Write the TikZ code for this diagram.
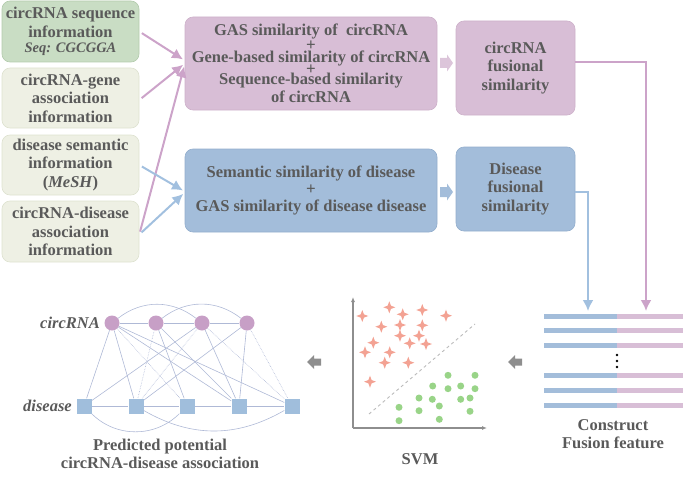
\documentclass[tikz,border=0pt]{standalone}
\usepackage{fontspec}
\setmainfont{Liberation Serif}
\usetikzlibrary{arrows.meta,positioning,shapes.geometric}

\definecolor{txtgray}{HTML}{5A5A5A}
\definecolor{greenfill}{HTML}{C9DDC4}
\definecolor{greenline}{HTML}{B3CBAD}
\definecolor{palefill}{HTML}{EEF0E4}
\definecolor{paleline}{HTML}{DEE2D0}
\definecolor{pinkfill}{HTML}{D8BED6}
\definecolor{pinkline}{HTML}{CDB1CA}
\definecolor{bluefill}{HTML}{A3BDDA}
\definecolor{blueline}{HTML}{93AECD}
\definecolor{pinkarr}{HTML}{CCA3C9}
\definecolor{bluearr}{HTML}{A2C0DF}
\definecolor{nodepink}{HTML}{C79FC6}
\definecolor{nodeblue}{HTML}{A0BEDC}
\definecolor{edgecol}{HTML}{AFB9D6}
\definecolor{starcol}{HTML}{F3A293}
\definecolor{dotcol}{HTML}{99D488}
\definecolor{graycol}{HTML}{8E8E8E}

\newcommand{\plusrow}{{\fontsize{17}{17}\selectfont\smash{+}}}

\begin{document}
\begin{tikzpicture}[x=1pt,y=-1pt]
\tikzset{
  srcbox/.style={rectangle,rounded corners=8pt,line width=0.6pt,minimum width=137pt,align=center,
    inner sep=1pt,text=txtgray,font=\fontsize{16.5}{18.5}\selectfont\bfseries},
  simbox/.style={srcbox,minimum width=252pt},
  fusbox/.style={srcbox,minimum width=119pt},
  blockarrow/.pic={\fill (-6.5,-5) -- (0.5,-5) -- (0.5,-8.5) -- (6.5,0) -- (0.5,8.5) -- (0.5,5) -- (-6.5,5) -- cycle;},
  grayarrow/.pic={\fill[graycol] (7,-3.5) -- (0,-3.5) -- (0,-7) -- (-7,0) -- (0,7) -- (0,3.5) -- (7,3.5) -- cycle;},
  pinkflow/.style={draw=pinkarr,line width=2pt,-{Latex[length=11pt,width=11pt]}},
  blueflow/.style={draw=bluearr,line width=2pt,-{Latex[length=11pt,width=11pt]}},
  cnode/.style={circle,fill=nodepink,minimum size=15pt,inner sep=0pt},
  dnode/.style={rectangle,fill=nodeblue,minimum size=15pt,inner sep=0pt},
  gedge/.style={draw=edgecol,line width=0.6pt},
  gdot/.style={gedge,densely dotted},
  caption/.style={align=center,text=txtgray,font=\fontsize{16.5}{18}\selectfont\bfseries},
  glabel/.style={text=txtgray,font=\fontsize{16.5}{18}\selectfont\bfseries\itshape,inner sep=1pt},
  starpt/.style={star,star points=4,star point ratio=2.6,fill=starcol,minimum size=12pt,inner sep=0pt},
  dotpt/.style={circle,fill=dotcol,minimum size=7pt,inner sep=0pt},
  axisline/.style={draw=graycol,line width=1.2pt,-{Latex[length=5pt,width=4pt]}}
}
\useasboundingbox (0,0) rectangle (684,476);

% input information
\node[srcbox,fill=greenfill,draw=greenline,minimum height=61pt] (n_seq) at (70.5,31.5)
  {circRNA sequence\\information\\[-3pt]{\fontsize{14.5}{15}\selectfont\itshape Seq: CGCGGA}};
\node[srcbox,fill=palefill,draw=paleline,minimum height=60pt] (n_gene) at (70.5,98)
  {circRNA-gene\\association\\information};
\node[srcbox,fill=palefill,draw=paleline,minimum height=60pt] (n_sem) at (70.5,165)
  {disease semantic\\information\\(\textit{MeSH})};
\node[srcbox,fill=palefill,draw=paleline,minimum height=61pt] (n_cdis) at (70.5,231.5)
  {circRNA-disease\\association\\information};

% similarity boxes
\node[simbox,fill=pinkfill,draw=pinkline,minimum height=93pt] (n_csim) at (311,63.5)
  {GAS similarity of \ circRNA\\[-4pt]\plusrow\\[-6pt]
   Gene-based similarity of circRNA\\[-7pt]\plusrow\\[-8.5pt]
   Sequence-based similarity\\of circRNA};
\node[simbox,fill=bluefill,draw=blueline,minimum height=83pt] (n_dsim) at (311,190.5)
  {Semantic similarity of disease\\[-1.5pt]\plusrow\\[-1.5pt]
   GAS similarity of disease disease};
\node[fusbox,fill=pinkfill,draw=pinkline,minimum height=94pt] (n_cfus) at (515.5,68)
  {circRNA\\fusional\\similarity};
\node[fusbox,fill=bluefill,draw=blueline,minimum height=84pt] (n_dfus) at (515.5,189)
  {Disease\\fusional\\similarity};

\pic[fill=pinkfill!90!white] at (446.5,63) {blockarrow};
\pic[fill=bluefill] at (446.5,192) {blockarrow};

\draw[pinkflow,shorten <=3pt,shorten >=2pt] (n_seq.east) -- ([yshift=3pt]n_csim.west);
\draw[pinkflow,shorten <=3pt,shorten >=2pt] ([yshift=-2pt]n_gene.east) -- ([yshift=0pt]n_csim.west);
\draw[pinkflow,shorten <=3pt,shorten >=2pt] ([yshift=-3pt]n_cdis.east) -- ([yshift=-1pt]n_csim.west);
\draw[blueflow,shorten <=3pt,shorten >=2pt] (n_sem.east) -- ([yshift=-1pt]n_dsim.west);
\draw[blueflow,shorten <=3pt,shorten >=2pt] ([yshift=-3pt]n_cdis.east) -- ([yshift=-2pt]n_dsim.west);

% fusion feature
\coordinate (t_blue) at (588,311);
\coordinate (t_pink) at (646,311);
\draw[blueflow] ([yshift=-3pt]n_dfus.east) -| (t_blue);
\draw[pinkflow] ([yshift=6pt]n_cfus.east) -| (t_pink);
\foreach \y in {316,330,345,375,390,405} {
  \draw[bluefill,line width=5pt] (544,\y) -- (617,\y);
  \draw[pinkfill,line width=5pt] (617,\y) -- (683,\y);
}
\foreach \y in {355,361,367} \fill[black] (617,\y) circle (1.3pt);
\node[caption] (l_fus) at (613,434) {Construct\\Fusion feature};

\pic at (515,362) {grayarrow};

% SVM
\coordinate (o_svm) at (353,428);
\coordinate (y_svm) at (353,297);
\coordinate (x_svm) at (487,428);
\draw[axisline] (o_svm) -- (y_svm);
\draw[axisline] (o_svm) -- (x_svm);
\coordinate (h_lo) at (369,414);
\coordinate (h_hi) at (475,324);
\draw[draw=graycol!60,line width=0.9pt,dashed] (h_lo) -- (h_hi);
\foreach \px/\py in {362.3/316,389.3/307.3,402.7/314.3,422.3/310,446/315.7,381.3/326.7,400/325,
  422.3/325.3,400/335.7,419/335.7,373.3/342.7,409.7/343.3,426/344,365/352.3,389.7/352.3,
  384.7/362.7,408.3/362.7,370/381.7}
  \node[starpt] at (\px,\py) {};
\foreach \px/\py in {448/375.3,475/375.3,432.7/386,448/388.7,460.7/386,475/388.7,419/398,
  432.3/399.3,460.7/399.3,470/398,399/407.3,419/410.7,439.3/406,470/411.3,399/420.7,439.3/419.3}
  \node[dotpt] at (\px,\py) {};
\node[caption] (l_svm) at (420,459) {SVM};

\pic at (314,362) {grayarrow};

% predicted association graph
\node[cnode] (n_c1) at (112,323) {};
\node[cnode] (n_c2) at (156,323) {};
\node[cnode] (n_c3) at (202,323) {};
\node[cnode] (n_c4) at (247,323) {};
\node[dnode] (n_d1) at (84,406) {};
\node[dnode] (n_d2) at (136,406) {};
\node[dnode] (n_d3) at (187,406) {};
\node[dnode] (n_d4) at (239,406) {};
\node[dnode] (n_d5) at (292,406) {};
\node[glabel,anchor=east] (l_circ) at (101,323) {circRNA};
\node[glabel,anchor=east] (l_dis) at (73,406) {disease};
\draw[gedge] (n_c1) -- (n_c2);
\draw[gedge] (n_c2) -- (n_c3);
\draw[gedge] (n_c3) -- (n_c4);
\draw[gedge] (n_d1) -- (n_d2);
\draw[gedge] (n_d2) -- (n_d3);
\draw[gedge] (n_d3) -- (n_d4);
\draw[gedge] (n_d4) -- (n_d5);
\draw[gedge] (n_c1) to[bend left=38] (n_c3);
\draw[gedge] (n_c2) to[bend left=38] (n_c4);
\draw[gedge] (n_d1) to[bend right=45] (n_d3);
\draw[gedge] (n_d2) to[bend right=30] (n_d5);
\draw[gedge] (n_c1) -- (n_d1);
\draw[gedge] (n_c1) -- (n_d2);
\draw[gedge] (n_c1) -- (n_d4);
\draw[gedge] (n_c1) -- (n_d5);
\draw[gedge] (n_c2) -- (n_d3);
\draw[gedge] (n_c2) -- (n_d4);
\draw[gedge] (n_c3) -- (n_d1);
\draw[gedge] (n_c3) -- (n_d4);
\draw[gedge] (n_c4) -- (n_d2);
\draw[gedge] (n_c4) -- (n_d4);
\draw[gdot] (n_c1) -- (n_d3);
\draw[gdot] (n_c2) -- (n_d2);
\draw[gdot] (n_c3) -- (n_d2);
\draw[gdot] (n_c3) -- (n_d5);
\draw[gdot] (n_c4) -- (n_d5);
\node[caption] (l_pred) at (160,454) {Predicted potential\\circRNA-disease association};
\end{tikzpicture}
\end{document}
